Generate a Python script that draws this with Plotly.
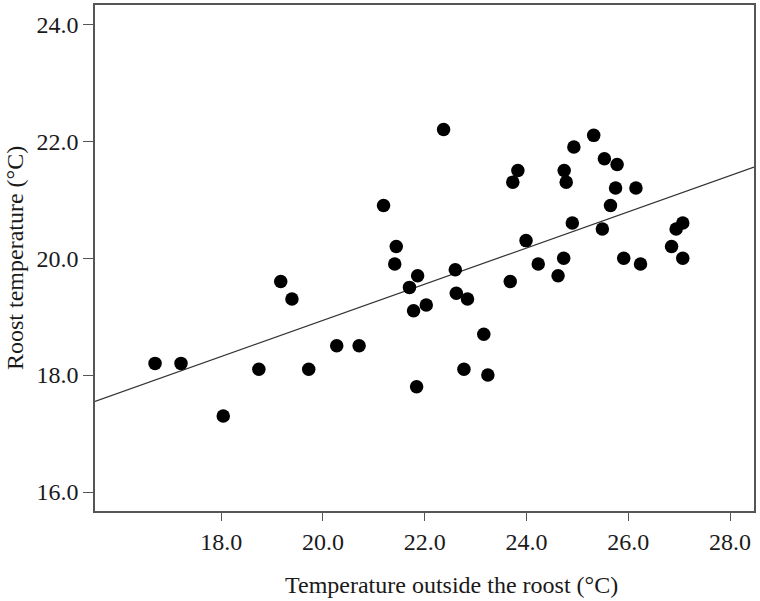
import numpy as np
import plotly.graph_objects as go

outside_temp = [16.70, 17.21, 18.04, 18.74, 19.17, 19.39, 19.72, 20.27, 20.71, 21.19,
                21.44, 21.41, 21.70, 21.78, 21.84, 21.86, 22.03, 22.37, 22.60, 22.62,
                22.77, 22.84, 23.16, 23.24, 23.68, 23.73, 23.83, 23.99, 24.23, 24.62,
                24.73, 24.74, 24.78, 24.90, 24.93, 25.32, 25.49, 25.53, 25.65, 25.75,
                25.78, 25.91, 26.15, 26.24, 26.85, 26.94, 27.07, 27.07]
roost_temp = [18.2, 18.2, 17.3, 18.1, 19.6, 19.3, 18.1, 18.5, 18.5, 20.9,
              20.2, 19.9, 19.5, 19.1, 17.8, 19.7, 19.2, 22.2, 19.8, 19.4,
              18.1, 19.3, 18.7, 18.0, 19.6, 21.3, 21.5, 20.3, 19.9, 19.7,
              20.0, 21.5, 21.3, 20.6, 21.9, 22.1, 20.5, 21.7, 20.9, 21.2,
              21.6, 20.0, 21.2, 19.9, 20.2, 20.5, 20.6, 20.0]

x_ticks = [18.0, 20.0, 22.0, 24.0, 26.0, 28.0]
y_ticks = [16.0, 18.0, 20.0, 22.0, 24.0]
x_range = [15.52, 28.47]
y_range = [15.675, 24.33]
x_title = "Temperature outside the roost (°C)"
y_title = "Roost temperature (°C)"

slope, intercept = np.polyfit(outside_temp, roost_temp, 1)
fit_x = np.array(x_range)
fit_y = intercept + slope * fit_x

W, H = 760, 601
ML, MR, MT, MB = 95, 6, 5, 90
plot_w = W - ML - MR
plot_h = H - MT - MB

fig = go.Figure()
fig.add_trace(go.Scatter(x=fit_x, y=fit_y, mode="lines",
                         line=dict(color="#333333", width=1.2),
                         showlegend=False, hoverinfo="skip"))
fig.add_trace(go.Scatter(x=outside_temp, y=roost_temp, mode="markers",
                         marker=dict(color="black", size=13.5, line=dict(width=0)),
                         showlegend=False))

font = dict(family="Liberation Serif, Times New Roman, serif", size=24, color="#1a1a1a")

fig.update_layout(
    width=W, height=H,
    margin=dict(l=ML, r=MR, t=MT, b=MB, autoexpand=False),
    paper_bgcolor="white", plot_bgcolor="white",
    font=font,
    xaxis=dict(range=x_range, tickvals=x_ticks, ticktext=[f"{v:.1f}" for v in x_ticks],
               showgrid=False, zeroline=False, showline=True, mirror=True,
               linecolor="#555555", linewidth=1.5, ticks="outside", ticklen=8,
               tickcolor="#555555", tickwidth=1.2, tickfont=font, automargin=False),
    yaxis=dict(range=y_range, tickvals=y_ticks, ticktext=[f"{v:.1f}" for v in y_ticks],
               showgrid=False, zeroline=False, showline=True, mirror=True,
               linecolor="#555555", linewidth=1.5, ticks="outside", ticklen=10,
               tickcolor="#555555", tickwidth=1.2, tickfont=font, automargin=False),
    annotations=[
        dict(text=x_title, xref="paper", yref="paper",
             x=(452 - ML) / plot_w, y=-(585 - (MT + plot_h)) / plot_h,
             xanchor="center", yanchor="middle", showarrow=False, font=font),
        dict(text=y_title, xref="paper", yref="paper", textangle=-90,
             x=(15 - ML) / plot_w, y=1 - (258 - MT) / plot_h,
             xanchor="center", yanchor="middle", showarrow=False, font=font),
    ],
)

fig.write_html("out.html", config={"displayModeBar": False},
               post_script="document.body.style.margin='0px';document.body.style.overflow='hidden';")
